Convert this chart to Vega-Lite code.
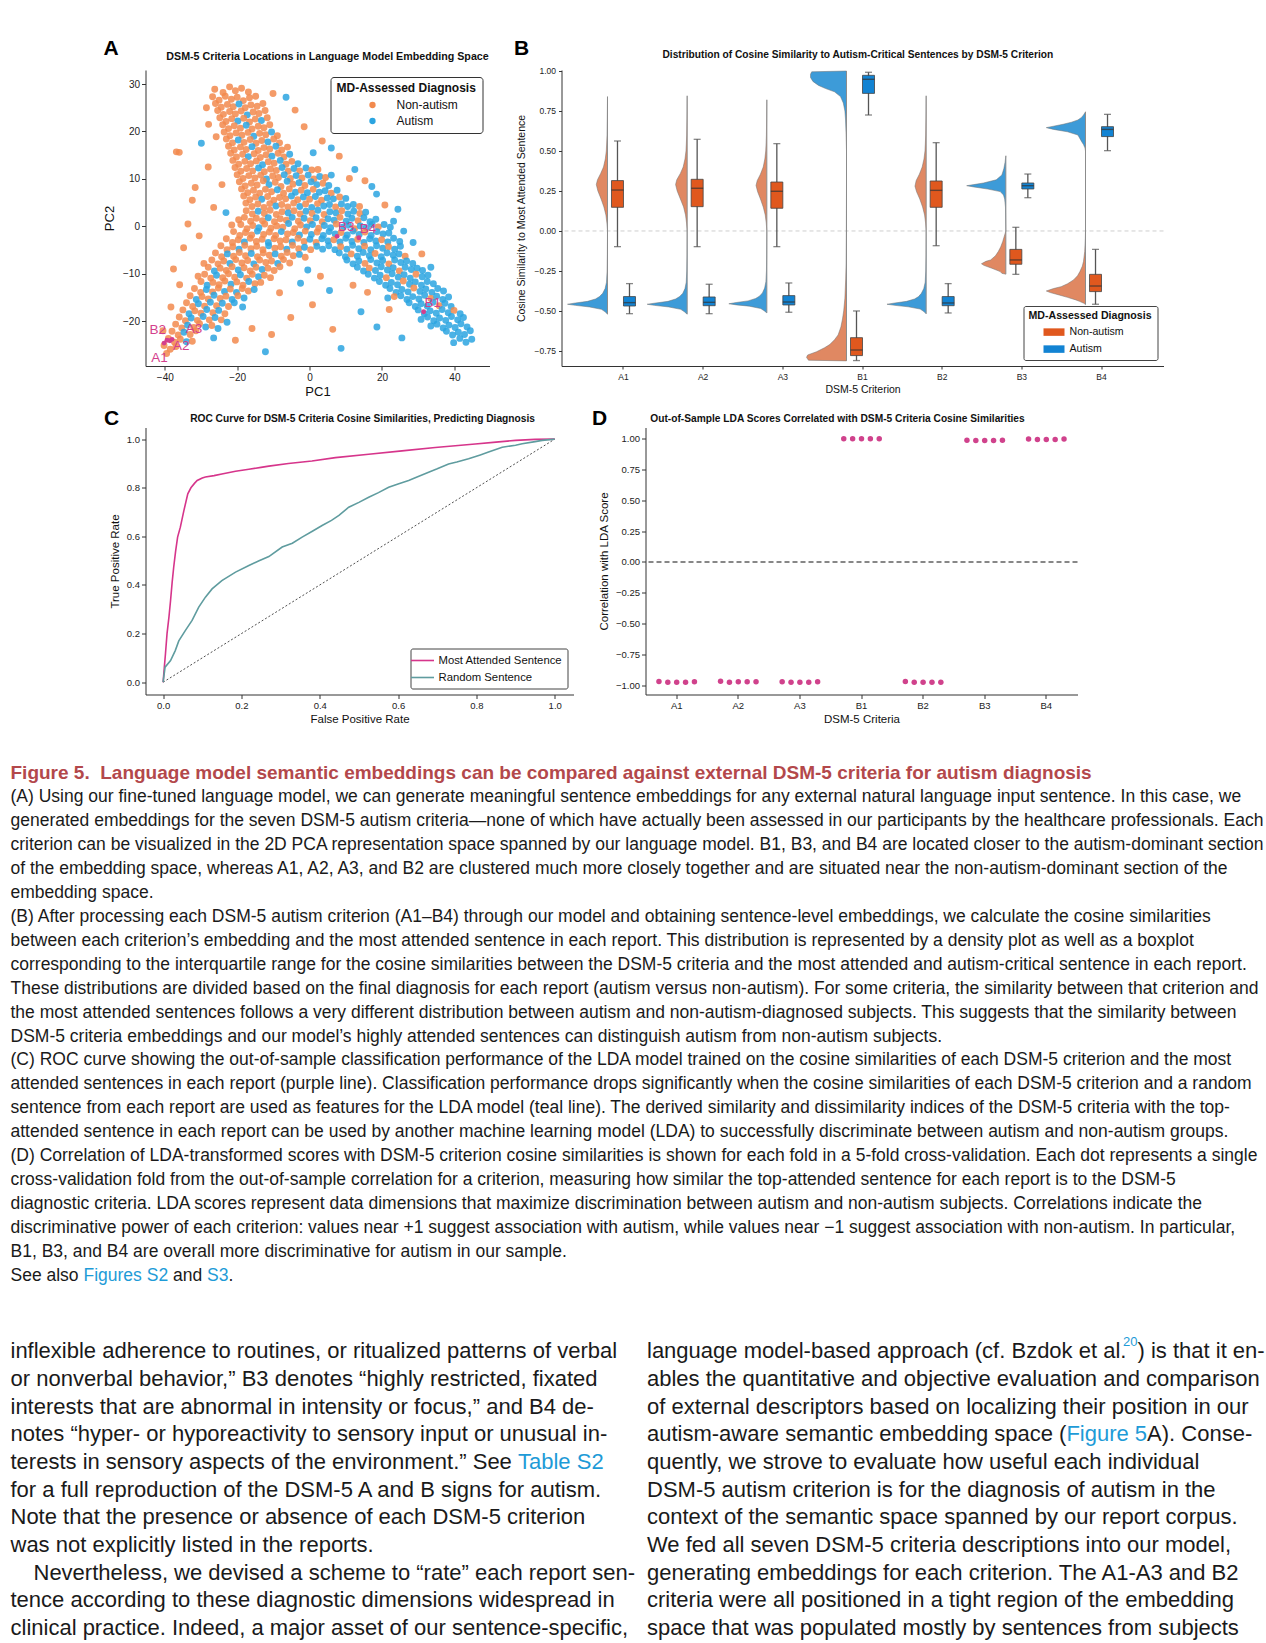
{
"$schema":"https://vega.github.io/schema/vega-lite/v6.json",
"background":"white",
"padding":{"left":10.5,"top":38,"right":0,"bottom":0},
"config":{
 "font":"Liberation Sans",
 "view":{"stroke":null},
 "axis":{"grid":false,"domainColor":"#333","tickColor":"#333","labelColor":"#222","titleColor":"#111","titleFontWeight":"normal","labelFont":"Liberation Sans","titleFont":"Liberation Sans","labelOverlap":false},
 "title":{"font":"Liberation Sans","fontWeight":"bold","color":"#111"},
 "legend":{"labelFont":"Liberation Sans","titleFont":"Liberation Sans"}
},
"datasets":{
"pca":[
{"x":-26.2,"y":28.9,"g":"N"},{"x":-23.9,"y":28.2,"g":"N"},{"x":-22.1,"y":29.4,"g":"N"},{"x":-20.5,"y":28.6,"g":"N"},{"x":-18.8,"y":29.1,"g":"N"},{"x":-16.9,"y":28.3,"g":"N"},
{"x":-26.8,"y":27.3,"g":"N"},{"x":-25.0,"y":26.6,"g":"N"},{"x":-23.3,"y":27.4,"g":"N"},{"x":-21.6,"y":26.8,"g":"N"},{"x":-20.0,"y":27.2,"g":"N"},{"x":-18.3,"y":26.5,"g":"N"},{"x":-16.6,"y":27.1,"g":"N"},{"x":-14.9,"y":27.4,"g":"N"},
{"x":-26.0,"y":25.9,"g":"N"},{"x":-24.4,"y":25.1,"g":"N"},{"x":-22.7,"y":25.7,"g":"N"},{"x":-21.1,"y":25.2,"g":"N"},{"x":-19.5,"y":25.8,"g":"A"},{"x":-17.8,"y":25.0,"g":"N"},{"x":-16.2,"y":25.6,"g":"N"},{"x":-14.5,"y":25.3,"g":"N"},{"x":-12.9,"y":25.9,"g":"N"},
{"x":-25.4,"y":24.4,"g":"N"},{"x":-23.8,"y":23.6,"g":"N"},{"x":-22.1,"y":24.2,"g":"N"},{"x":-20.5,"y":23.7,"g":"N"},{"x":-18.9,"y":24.3,"g":"N"},{"x":-17.2,"y":23.5,"g":"A"},{"x":-15.6,"y":24.1,"g":"N"},{"x":-14.0,"y":23.8,"g":"N"},{"x":-12.3,"y":24.4,"g":"N"},
{"x":-24.8,"y":22.9,"g":"N"},{"x":-23.1,"y":22.1,"g":"N"},{"x":-21.5,"y":22.7,"g":"N"},{"x":-19.8,"y":22.2,"g":"A"},{"x":-18.2,"y":22.8,"g":"N"},{"x":-16.6,"y":22.0,"g":"N"},{"x":-15.0,"y":22.6,"g":"N"},{"x":-13.3,"y":22.3,"g":"A"},{"x":-11.7,"y":22.9,"g":"N"},
{"x":-24.0,"y":21.4,"g":"N"},{"x":-22.4,"y":20.6,"g":"N"},{"x":-20.8,"y":21.2,"g":"N"},{"x":-19.1,"y":20.7,"g":"N"},{"x":-17.5,"y":21.3,"g":"A"},{"x":-15.9,"y":20.5,"g":"N"},{"x":-14.2,"y":21.1,"g":"N"},{"x":-12.6,"y":20.8,"g":"N"},{"x":-11.0,"y":21.4,"g":"N"},
{"x":-23.6,"y":19.9,"g":"N"},{"x":-22.0,"y":19.1,"g":"N"},{"x":-20.3,"y":19.7,"g":"N"},{"x":-18.7,"y":19.2,"g":"N"},{"x":-17.0,"y":19.8,"g":"N"},{"x":-15.4,"y":19.0,"g":"A"},{"x":-13.8,"y":19.6,"g":"N"},{"x":-12.1,"y":19.3,"g":"N"},{"x":-10.5,"y":19.9,"g":"A"},{"x":-8.9,"y":19.1,"g":"N"},
{"x":-23.0,"y":18.4,"g":"N"},{"x":-21.3,"y":17.6,"g":"N"},{"x":-19.7,"y":18.2,"g":"A"},{"x":-18.1,"y":17.7,"g":"N"},{"x":-16.4,"y":18.3,"g":"N"},{"x":-14.8,"y":17.5,"g":"N"},{"x":-13.2,"y":18.1,"g":"N"},{"x":-11.5,"y":17.8,"g":"A"},{"x":-9.9,"y":18.4,"g":"N"},{"x":-8.3,"y":17.6,"g":"N"},
{"x":-22.4,"y":16.9,"g":"N"},{"x":-20.8,"y":16.1,"g":"N"},{"x":-19.1,"y":16.7,"g":"N"},{"x":-17.5,"y":16.2,"g":"N"},{"x":-15.9,"y":16.8,"g":"A"},{"x":-14.2,"y":16.0,"g":"N"},{"x":-12.6,"y":16.6,"g":"N"},{"x":-11.0,"y":16.3,"g":"N"},{"x":-9.3,"y":16.9,"g":"A"},{"x":-7.7,"y":16.1,"g":"N"},{"x":-6.1,"y":16.7,"g":"N"},
{"x":-21.8,"y":15.4,"g":"N"},{"x":-20.2,"y":14.6,"g":"N"},{"x":-18.5,"y":15.2,"g":"N"},{"x":-16.9,"y":14.7,"g":"A"},{"x":-15.3,"y":15.3,"g":"N"},{"x":-13.6,"y":14.5,"g":"N"},{"x":-12.0,"y":15.1,"g":"N"},{"x":-10.4,"y":14.8,"g":"A"},{"x":-8.7,"y":15.4,"g":"N"},{"x":-7.1,"y":14.6,"g":"N"},{"x":-5.5,"y":15.2,"g":"A"},
{"x":-21.2,"y":13.9,"g":"N"},{"x":-19.6,"y":13.1,"g":"N"},{"x":-17.9,"y":13.7,"g":"N"},{"x":-16.3,"y":13.2,"g":"N"},{"x":-14.7,"y":13.8,"g":"N"},{"x":-13.0,"y":13.0,"g":"A"},{"x":-11.4,"y":13.6,"g":"N"},{"x":-9.8,"y":13.3,"g":"N"},{"x":-8.1,"y":13.9,"g":"A"},{"x":-6.5,"y":13.1,"g":"N"},{"x":-4.9,"y":13.7,"g":"N"},{"x":-3.2,"y":13.2,"g":"A"},
{"x":-20.6,"y":12.4,"g":"N"},{"x":-19.0,"y":11.6,"g":"N"},{"x":-17.4,"y":12.2,"g":"N"},{"x":-15.7,"y":11.7,"g":"N"},{"x":-14.1,"y":12.3,"g":"A"},{"x":-12.5,"y":11.5,"g":"N"},{"x":-10.8,"y":12.1,"g":"N"},{"x":-9.2,"y":11.8,"g":"N"},{"x":-7.6,"y":12.4,"g":"A"},{"x":-5.9,"y":11.6,"g":"N"},{"x":-4.3,"y":12.2,"g":"A"},{"x":-2.7,"y":11.7,"g":"N"},{"x":-1.0,"y":12.3,"g":"A"},{"x":0.6,"y":11.9,"g":"N"},{"x":2.3,"y":12.0,"g":"N"},
{"x":-20.0,"y":10.9,"g":"N"},{"x":-18.4,"y":10.1,"g":"N"},{"x":-16.8,"y":10.7,"g":"N"},{"x":-15.1,"y":10.2,"g":"N"},{"x":-13.5,"y":10.8,"g":"N"},{"x":-11.9,"y":10.0,"g":"A"},{"x":-10.2,"y":10.6,"g":"N"},{"x":-8.6,"y":10.3,"g":"N"},{"x":-7.0,"y":10.9,"g":"A"},{"x":-5.3,"y":10.1,"g":"N"},{"x":-3.7,"y":10.7,"g":"A"},{"x":-2.1,"y":10.2,"g":"N"},{"x":-0.4,"y":10.8,"g":"A"},{"x":1.2,"y":10.0,"g":"N"},{"x":2.8,"y":10.5,"g":"A"},{"x":4.4,"y":10.3,"g":"N"},{"x":6.0,"y":10.8,"g":"A"},
{"x":-19.4,"y":9.4,"g":"N"},{"x":-17.8,"y":8.5,"g":"N"},{"x":-16.1,"y":9.1,"g":"N"},{"x":-14.5,"y":8.7,"g":"N"},{"x":-12.8,"y":9.6,"g":"N"},{"x":-11.2,"y":8.8,"g":"A"},{"x":-9.5,"y":9.3,"g":"N"},{"x":-7.9,"y":8.4,"g":"N"},{"x":-6.2,"y":9.5,"g":"A"},{"x":-4.6,"y":8.9,"g":"N"},{"x":-2.9,"y":9.2,"g":"A"},{"x":-1.3,"y":8.6,"g":"N"},{"x":0.4,"y":9.4,"g":"A"},{"x":2.0,"y":8.8,"g":"A"},{"x":3.7,"y":9.1,"g":"N"},{"x":5.3,"y":8.6,"g":"A"},
{"x":-18.8,"y":7.9,"g":"N"},{"x":-17.1,"y":7.1,"g":"N"},{"x":-15.5,"y":7.6,"g":"N"},{"x":-13.8,"y":7.0,"g":"N"},{"x":-12.2,"y":7.8,"g":"N"},{"x":-10.5,"y":7.3,"g":"N"},{"x":-8.9,"y":7.7,"g":"A"},{"x":-7.2,"y":7.0,"g":"N"},{"x":-5.6,"y":7.9,"g":"N"},{"x":-3.9,"y":7.2,"g":"A"},{"x":-2.3,"y":7.6,"g":"N"},{"x":-0.6,"y":7.1,"g":"A"},{"x":1.0,"y":7.8,"g":"N"},{"x":2.7,"y":7.2,"g":"A"},{"x":4.3,"y":7.5,"g":"A"},{"x":6.0,"y":7.0,"g":"N"},{"x":7.6,"y":7.6,"g":"A"},
{"x":-18.2,"y":6.4,"g":"N"},{"x":-16.5,"y":5.6,"g":"N"},{"x":-14.9,"y":6.2,"g":"N"},{"x":-13.2,"y":5.7,"g":"A"},{"x":-11.6,"y":6.3,"g":"N"},{"x":-9.9,"y":5.5,"g":"N"},{"x":-8.3,"y":6.1,"g":"N"},{"x":-6.6,"y":5.8,"g":"N"},{"x":-5.0,"y":6.4,"g":"A"},{"x":-3.3,"y":5.6,"g":"N"},{"x":-1.7,"y":6.2,"g":"A"},{"x":0.0,"y":5.7,"g":"N"},{"x":1.6,"y":6.3,"g":"A"},{"x":3.3,"y":5.5,"g":"N"},{"x":4.9,"y":6.0,"g":"A"},{"x":6.6,"y":5.8,"g":"A"},{"x":8.3,"y":6.2,"g":"N"},{"x":10.0,"y":5.9,"g":"A"},
{"x":-17.6,"y":4.9,"g":"N"},{"x":-15.9,"y":4.2,"g":"N"},{"x":-14.3,"y":4.7,"g":"N"},{"x":-12.6,"y":4.0,"g":"N"},{"x":-11.0,"y":4.8,"g":"N"},{"x":-9.3,"y":4.3,"g":"A"},{"x":-7.7,"y":4.6,"g":"N"},{"x":-6.0,"y":4.1,"g":"N"},{"x":-4.4,"y":4.9,"g":"N"},{"x":-2.7,"y":4.2,"g":"A"},{"x":-1.1,"y":4.7,"g":"N"},{"x":0.6,"y":4.0,"g":"A"},{"x":2.2,"y":4.8,"g":"N"},{"x":3.9,"y":4.3,"g":"A"},{"x":5.5,"y":4.6,"g":"A"},{"x":7.2,"y":4.1,"g":"N"},{"x":8.8,"y":4.7,"g":"A"},{"x":10.5,"y":4.2,"g":"A"},{"x":12.1,"y":4.6,"g":"A"},{"x":13.8,"y":4.2,"g":"N"},
{"x":-17.5,"y":3.3,"g":"N"},{"x":-15.8,"y":2.6,"g":"N"},{"x":-14.2,"y":3.2,"g":"A"},{"x":-12.5,"y":2.7,"g":"N"},{"x":-10.9,"y":3.4,"g":"N"},{"x":-9.2,"y":2.5,"g":"N"},{"x":-7.6,"y":3.1,"g":"N"},{"x":-5.9,"y":2.8,"g":"A"},{"x":-4.3,"y":3.3,"g":"N"},{"x":-2.6,"y":2.6,"g":"N"},{"x":-1.0,"y":3.2,"g":"A"},{"x":0.7,"y":2.7,"g":"N"},{"x":2.3,"y":3.4,"g":"A"},{"x":4.0,"y":2.5,"g":"N"},{"x":5.6,"y":3.1,"g":"A"},{"x":7.3,"y":2.8,"g":"A"},{"x":8.9,"y":3.3,"g":"N"},{"x":10.6,"y":2.6,"g":"A"},{"x":12.2,"y":3.2,"g":"A"},{"x":13.9,"y":2.7,"g":"N"},{"x":15.5,"y":3.0,"g":"A"},
{"x":-19.6,"y":1.4,"g":"N"},{"x":-18.0,"y":1.9,"g":"N"},{"x":-16.3,"y":1.1,"g":"N"},{"x":-14.7,"y":1.7,"g":"N"},{"x":-13.0,"y":1.2,"g":"N"},{"x":-11.4,"y":1.8,"g":"A"},{"x":-9.7,"y":1.0,"g":"N"},{"x":-8.1,"y":1.6,"g":"N"},{"x":-6.4,"y":1.3,"g":"N"},{"x":-4.8,"y":1.9,"g":"A"},{"x":-3.1,"y":1.1,"g":"N"},{"x":-1.5,"y":1.7,"g":"A"},{"x":0.2,"y":1.2,"g":"N"},{"x":1.8,"y":1.8,"g":"A"},{"x":3.5,"y":1.0,"g":"N"},{"x":5.1,"y":1.6,"g":"A"},{"x":6.8,"y":1.3,"g":"A"},{"x":8.4,"y":1.9,"g":"N"},{"x":10.1,"y":1.1,"g":"A"},{"x":11.7,"y":1.7,"g":"A"},{"x":13.4,"y":1.2,"g":"N"},{"x":15.0,"y":1.8,"g":"A"},{"x":16.7,"y":1.0,"g":"A"},{"x":18.3,"y":1.5,"g":"A"},
{"x":-21.5,"y":0.3,"g":"N"},{"x":-19.0,"y":0.4,"g":"N"},{"x":-17.3,"y":-0.5,"g":"N"},{"x":-15.7,"y":0.2,"g":"N"},{"x":-14.0,"y":-0.3,"g":"A"},{"x":-12.4,"y":0.5,"g":"N"},{"x":-10.7,"y":-0.4,"g":"N"},{"x":-9.1,"y":0.1,"g":"N"},{"x":-7.4,"y":-0.2,"g":"N"},{"x":-5.8,"y":0.6,"g":"A"},{"x":-4.1,"y":-0.5,"g":"N"},{"x":-2.5,"y":0.3,"g":"N"},{"x":-0.8,"y":-0.1,"g":"A"},{"x":0.8,"y":0.4,"g":"A"},{"x":2.5,"y":-0.4,"g":"N"},{"x":4.1,"y":0.2,"g":"A"},{"x":5.8,"y":-0.3,"g":"A"},{"x":7.4,"y":0.5,"g":"N"},{"x":9.1,"y":-0.2,"g":"A"},{"x":10.7,"y":0.3,"g":"A"},{"x":12.4,"y":-0.5,"g":"N"},{"x":14.0,"y":0.1,"g":"A"},{"x":15.7,"y":-0.3,"g":"A"},{"x":17.3,"y":0.4,"g":"A"},{"x":19.0,"y":-0.1,"g":"N"},{"x":20.6,"y":0.4,"g":"A"},{"x":22.3,"y":-0.2,"g":"A"},
{"x":-21.0,"y":-1.1,"g":"N"},{"x":-19.3,"y":-1.9,"g":"N"},{"x":-17.7,"y":-1.3,"g":"N"},{"x":-16.0,"y":-1.8,"g":"N"},{"x":-14.4,"y":-1.0,"g":"A"},{"x":-12.7,"y":-1.7,"g":"N"},{"x":-11.1,"y":-1.2,"g":"N"},{"x":-9.4,"y":-1.9,"g":"N"},{"x":-7.8,"y":-1.1,"g":"A"},{"x":-6.1,"y":-1.6,"g":"N"},{"x":-4.5,"y":-1.3,"g":"N"},{"x":-2.8,"y":-1.8,"g":"A"},{"x":-1.2,"y":-1.0,"g":"N"},{"x":0.5,"y":-1.7,"g":"A"},{"x":2.1,"y":-1.2,"g":"N"},{"x":3.8,"y":-1.9,"g":"A"},{"x":5.4,"y":-1.1,"g":"A"},{"x":7.1,"y":-1.6,"g":"A"},{"x":8.7,"y":-1.3,"g":"N"},{"x":10.4,"y":-1.8,"g":"A"},{"x":12.0,"y":-1.0,"g":"A"},{"x":13.7,"y":-1.7,"g":"A"},{"x":15.3,"y":-1.2,"g":"N"},{"x":17.0,"y":-1.9,"g":"A"},{"x":18.6,"y":-1.1,"g":"A"},{"x":20.3,"y":-1.6,"g":"A"},{"x":21.9,"y":-1.4,"g":"A"},
{"x":-23.0,"y":-2.6,"g":"N"},{"x":-21.3,"y":-3.4,"g":"N"},{"x":-19.7,"y":-2.8,"g":"N"},{"x":-18.0,"y":-3.3,"g":"A"},{"x":-16.4,"y":-2.5,"g":"N"},{"x":-14.7,"y":-3.2,"g":"N"},{"x":-13.1,"y":-2.7,"g":"N"},{"x":-11.4,"y":-3.4,"g":"A"},{"x":-9.8,"y":-2.6,"g":"N"},{"x":-8.1,"y":-3.1,"g":"N"},{"x":-6.5,"y":-2.8,"g":"N"},{"x":-4.8,"y":-3.3,"g":"A"},{"x":-3.2,"y":-2.5,"g":"N"},{"x":-1.5,"y":-3.2,"g":"N"},{"x":0.1,"y":-2.7,"g":"A"},{"x":1.8,"y":-3.4,"g":"N"},{"x":3.4,"y":-2.6,"g":"A"},{"x":5.1,"y":-3.1,"g":"A"},{"x":6.7,"y":-2.8,"g":"N"},{"x":8.4,"y":-3.3,"g":"A"},{"x":10.0,"y":-2.5,"g":"A"},{"x":11.7,"y":-3.2,"g":"A"},{"x":13.3,"y":-2.7,"g":"N"},{"x":15.0,"y":-3.4,"g":"A"},{"x":16.6,"y":-2.6,"g":"A"},{"x":18.3,"y":-3.1,"g":"A"},{"x":19.9,"y":-2.8,"g":"N"},{"x":21.6,"y":-3.3,"g":"A"},{"x":23.2,"y":-2.5,"g":"A"},{"x":24.9,"y":-3.2,"g":"A"},
{"x":-24.5,"y":-4.1,"g":"N"},{"x":-22.8,"y":-4.9,"g":"N"},{"x":-21.2,"y":-4.3,"g":"N"},{"x":-19.5,"y":-4.8,"g":"A"},{"x":-17.9,"y":-4.0,"g":"N"},{"x":-16.2,"y":-4.7,"g":"N"},{"x":-14.6,"y":-4.2,"g":"N"},{"x":-12.9,"y":-4.9,"g":"N"},{"x":-11.3,"y":-4.1,"g":"A"},{"x":-9.6,"y":-4.6,"g":"N"},{"x":-8.0,"y":-4.3,"g":"N"},{"x":-6.3,"y":-4.8,"g":"A"},{"x":-4.7,"y":-4.0,"g":"N"},{"x":-3.0,"y":-4.7,"g":"N"},{"x":-1.4,"y":-4.4,"g":"A"},{"x":0.3,"y":-4.9,"g":"N"},{"x":2.0,"y":-4.2,"g":"A"},{"x":3.6,"y":-4.8,"g":"A"},{"x":5.3,"y":-4.1,"g":"A"},{"x":7.0,"y":-4.9,"g":"A"},{"x":8.6,"y":-4.3,"g":"N"},{"x":10.3,"y":-4.8,"g":"A"},{"x":11.9,"y":-4.0,"g":"A"},{"x":13.6,"y":-4.7,"g":"A"},{"x":15.2,"y":-4.2,"g":"N"},{"x":16.9,"y":-4.9,"g":"A"},{"x":18.5,"y":-4.1,"g":"A"},{"x":20.2,"y":-4.6,"g":"A"},{"x":21.8,"y":-4.3,"g":"N"},{"x":23.5,"y":-4.8,"g":"A"},{"x":25.1,"y":-4.2,"g":"A"},
{"x":-26.0,"y":-5.6,"g":"N"},{"x":-24.3,"y":-6.4,"g":"N"},{"x":-22.7,"y":-5.8,"g":"A"},{"x":-21.0,"y":-6.3,"g":"N"},{"x":-19.4,"y":-5.5,"g":"N"},{"x":-17.7,"y":-6.2,"g":"N"},{"x":-16.1,"y":-5.7,"g":"A"},{"x":-14.4,"y":-6.4,"g":"N"},{"x":-12.8,"y":-5.6,"g":"N"},{"x":-11.1,"y":-6.1,"g":"N"},{"x":-9.5,"y":-5.8,"g":"A"},{"x":-7.8,"y":-6.3,"g":"N"},{"x":-6.2,"y":-5.5,"g":"N"},{"x":-4.5,"y":-6.2,"g":"N"},{"x":-2.8,"y":-5.9,"g":"A"},{"x":-1.2,"y":-6.5,"g":"N"},{"x":8.2,"y":-5.6,"g":"A"},{"x":9.9,"y":-6.4,"g":"A"},{"x":11.5,"y":-5.8,"g":"N"},{"x":13.2,"y":-6.3,"g":"A"},{"x":14.8,"y":-5.5,"g":"A"},{"x":16.5,"y":-6.2,"g":"A"},{"x":18.1,"y":-5.7,"g":"N"},{"x":19.8,"y":-6.4,"g":"A"},{"x":21.4,"y":-5.6,"g":"A"},{"x":23.1,"y":-6.1,"g":"A"},{"x":24.7,"y":-5.8,"g":"A"},{"x":26.4,"y":-6.3,"g":"N"},
{"x":-27.0,"y":-7.1,"g":"N"},{"x":-25.3,"y":-7.9,"g":"N"},{"x":-23.7,"y":-7.3,"g":"N"},{"x":-22.0,"y":-7.8,"g":"A"},{"x":-20.4,"y":-7.0,"g":"N"},{"x":-18.7,"y":-7.7,"g":"N"},{"x":-17.1,"y":-7.2,"g":"N"},{"x":-15.4,"y":-7.9,"g":"A"},{"x":-13.8,"y":-7.1,"g":"N"},{"x":-12.1,"y":-7.6,"g":"N"},{"x":-10.5,"y":-7.3,"g":"N"},{"x":-8.8,"y":-7.8,"g":"A"},{"x":-7.2,"y":-7.0,"g":"N"},{"x":-5.5,"y":-7.7,"g":"N"},{"x":10.3,"y":-7.1,"g":"A"},{"x":12.0,"y":-7.9,"g":"A"},{"x":13.6,"y":-7.3,"g":"A"},{"x":15.3,"y":-7.8,"g":"N"},{"x":16.9,"y":-7.0,"g":"A"},{"x":18.6,"y":-7.7,"g":"A"},{"x":20.2,"y":-7.2,"g":"A"},{"x":21.9,"y":-7.9,"g":"N"},{"x":23.5,"y":-7.1,"g":"A"},{"x":25.2,"y":-7.6,"g":"A"},{"x":26.8,"y":-7.3,"g":"A"},{"x":28.5,"y":-7.8,"g":"A"},
{"x":-28.0,"y":-8.6,"g":"N"},{"x":-26.3,"y":-9.4,"g":"A"},{"x":-24.7,"y":-8.8,"g":"N"},{"x":-23.0,"y":-9.3,"g":"N"},{"x":-21.4,"y":-8.5,"g":"N"},{"x":-19.7,"y":-9.2,"g":"A"},{"x":-18.1,"y":-8.7,"g":"N"},{"x":-16.4,"y":-9.4,"g":"N"},{"x":-14.8,"y":-8.6,"g":"N"},{"x":-13.1,"y":-9.1,"g":"A"},{"x":-11.5,"y":-8.8,"g":"N"},{"x":-9.8,"y":-9.3,"g":"N"},{"x":-8.2,"y":-8.5,"g":"N"},{"x":13.2,"y":-8.6,"g":"A"},{"x":14.9,"y":-9.4,"g":"A"},{"x":16.5,"y":-8.8,"g":"N"},{"x":18.2,"y":-9.3,"g":"A"},{"x":19.8,"y":-8.5,"g":"A"},{"x":21.5,"y":-9.2,"g":"A"},{"x":23.1,"y":-8.7,"g":"A"},{"x":24.8,"y":-9.4,"g":"N"},{"x":26.4,"y":-8.6,"g":"A"},{"x":28.1,"y":-9.1,"g":"A"},{"x":29.7,"y":-8.8,"g":"A"},{"x":31.2,"y":-9.3,"g":"A"},
{"x":-29.0,"y":-10.1,"g":"N"},{"x":-27.3,"y":-10.9,"g":"N"},{"x":-25.7,"y":-10.3,"g":"A"},{"x":-24.0,"y":-10.8,"g":"N"},{"x":-22.4,"y":-10.0,"g":"N"},{"x":-20.7,"y":-10.7,"g":"N"},{"x":-19.1,"y":-10.2,"g":"A"},{"x":-17.4,"y":-10.9,"g":"N"},{"x":-15.8,"y":-10.1,"g":"N"},{"x":-14.1,"y":-10.6,"g":"A"},{"x":-12.5,"y":-10.3,"g":"N"},{"x":-10.8,"y":-10.8,"g":"N"},{"x":16.2,"y":-10.1,"g":"A"},{"x":17.9,"y":-10.9,"g":"A"},{"x":19.5,"y":-10.3,"g":"A"},{"x":21.2,"y":-10.8,"g":"N"},{"x":22.8,"y":-10.0,"g":"A"},{"x":24.5,"y":-10.7,"g":"A"},{"x":26.1,"y":-10.2,"g":"A"},{"x":27.8,"y":-10.9,"g":"A"},{"x":29.4,"y":-10.1,"g":"N"},{"x":31.1,"y":-10.6,"g":"A"},{"x":32.7,"y":-10.3,"g":"A"},
{"x":-30.0,"y":-11.6,"g":"N"},{"x":-28.3,"y":-12.4,"g":"A"},{"x":-26.7,"y":-11.8,"g":"N"},{"x":-25.0,"y":-12.3,"g":"N"},{"x":-23.4,"y":-11.5,"g":"N"},{"x":-21.7,"y":-12.2,"g":"A"},{"x":-20.1,"y":-11.7,"g":"N"},{"x":-18.4,"y":-12.4,"g":"N"},{"x":-16.8,"y":-11.6,"g":"A"},{"x":-15.1,"y":-12.1,"g":"N"},{"x":-13.5,"y":-11.8,"g":"N"},{"x":19.3,"y":-11.6,"g":"A"},{"x":21.0,"y":-12.4,"g":"A"},{"x":22.6,"y":-11.8,"g":"A"},{"x":24.3,"y":-12.3,"g":"A"},{"x":25.9,"y":-11.5,"g":"N"},{"x":27.6,"y":-12.2,"g":"A"},{"x":29.2,"y":-11.7,"g":"A"},{"x":30.9,"y":-12.4,"g":"A"},{"x":32.5,"y":-11.6,"g":"A"},{"x":34.2,"y":-12.1,"g":"A"},
{"x":-31.8,"y":-13.1,"g":"N"},{"x":-30.1,"y":-13.9,"g":"N"},{"x":-28.5,"y":-13.3,"g":"A"},{"x":-26.8,"y":-13.8,"g":"N"},{"x":-25.2,"y":-13.0,"g":"N"},{"x":-23.5,"y":-13.7,"g":"A"},{"x":-21.9,"y":-13.2,"g":"N"},{"x":-20.2,"y":-13.9,"g":"A"},{"x":-18.6,"y":-13.1,"g":"N"},{"x":-16.9,"y":-13.6,"g":"N"},{"x":-15.3,"y":-13.3,"g":"A"},{"x":22.2,"y":-13.1,"g":"A"},{"x":23.9,"y":-13.9,"g":"A"},{"x":25.5,"y":-13.3,"g":"A"},{"x":27.2,"y":-13.8,"g":"A"},{"x":28.8,"y":-13.0,"g":"N"},{"x":30.5,"y":-13.7,"g":"A"},{"x":32.1,"y":-13.2,"g":"A"},{"x":33.8,"y":-13.9,"g":"A"},{"x":35.4,"y":-13.1,"g":"A"},{"x":37.0,"y":-13.6,"g":"A"},
{"x":-33.0,"y":-14.6,"g":"N"},{"x":-31.3,"y":-15.4,"g":"A"},{"x":-29.7,"y":-14.8,"g":"N"},{"x":-28.0,"y":-15.3,"g":"N"},{"x":-26.4,"y":-14.5,"g":"A"},{"x":-24.7,"y":-15.2,"g":"N"},{"x":-23.1,"y":-14.7,"g":"N"},{"x":-21.4,"y":-15.4,"g":"A"},{"x":-19.8,"y":-14.6,"g":"N"},{"x":-18.1,"y":-15.1,"g":"A"},{"x":21.6,"y":-15.1,"g":"A"},{"x":23.4,"y":-14.8,"g":"N"},{"x":25.2,"y":-14.6,"g":"A"},{"x":26.9,"y":-15.4,"g":"A"},{"x":28.5,"y":-14.8,"g":"A"},{"x":30.2,"y":-15.3,"g":"A"},{"x":31.8,"y":-14.5,"g":"A"},{"x":33.5,"y":-15.2,"g":"N"},{"x":35.1,"y":-14.7,"g":"A"},{"x":36.8,"y":-15.4,"g":"A"},{"x":38.4,"y":-14.9,"g":"A"},
{"x":-34.0,"y":-16.1,"g":"N"},{"x":-32.3,"y":-16.9,"g":"N"},{"x":-30.7,"y":-16.3,"g":"A"},{"x":-29.0,"y":-16.8,"g":"N"},{"x":-27.4,"y":-16.0,"g":"A"},{"x":-25.7,"y":-16.7,"g":"N"},{"x":-24.1,"y":-16.2,"g":"A"},{"x":-22.4,"y":-16.9,"g":"N"},{"x":-20.8,"y":-16.1,"g":"A"},{"x":27.5,"y":-16.1,"g":"A"},{"x":29.2,"y":-16.9,"g":"A"},{"x":30.8,"y":-16.3,"g":"A"},{"x":32.5,"y":-16.8,"g":"A"},{"x":34.1,"y":-16.0,"g":"A"},{"x":35.8,"y":-16.7,"g":"N"},{"x":37.4,"y":-16.2,"g":"A"},{"x":39.1,"y":-16.9,"g":"A"},
{"x":-35.0,"y":-17.6,"g":"N"},{"x":-33.3,"y":-18.4,"g":"A"},{"x":-31.7,"y":-17.8,"g":"N"},{"x":-30.0,"y":-18.3,"g":"N"},{"x":-28.4,"y":-17.5,"g":"A"},{"x":-26.7,"y":-18.2,"g":"N"},{"x":-25.1,"y":-17.7,"g":"A"},{"x":-23.4,"y":-18.4,"g":"N"},{"x":30.0,"y":-17.6,"g":"A"},{"x":31.7,"y":-18.4,"g":"A"},{"x":33.3,"y":-17.8,"g":"A"},{"x":35.0,"y":-18.3,"g":"A"},{"x":36.6,"y":-17.5,"g":"A"},{"x":38.3,"y":-18.2,"g":"A"},{"x":39.9,"y":-17.7,"g":"N"},{"x":41.6,"y":-18.4,"g":"A"},
{"x":-36.0,"y":-19.1,"g":"N"},{"x":-34.3,"y":-19.9,"g":"N"},{"x":-32.7,"y":-19.3,"g":"A"},{"x":-31.0,"y":-19.8,"g":"N"},{"x":-29.4,"y":-19.0,"g":"A"},{"x":-27.7,"y":-19.7,"g":"N"},{"x":-26.1,"y":-19.2,"g":"A"},{"x":-24.4,"y":-19.7,"g":"N"},{"x":-22.8,"y":-20.2,"g":"A"},{"x":30.8,"y":-19.6,"g":"A"},{"x":32.6,"y":-19.1,"g":"A"},{"x":34.3,"y":-19.9,"g":"A"},{"x":35.9,"y":-19.3,"g":"A"},{"x":37.6,"y":-19.8,"g":"A"},{"x":39.2,"y":-19.0,"g":"A"},{"x":40.9,"y":-19.7,"g":"A"},{"x":42.5,"y":-19.2,"g":"A"},
{"x":-37.0,"y":-20.6,"g":"N"},{"x":-35.3,"y":-21.4,"g":"N"},{"x":-33.7,"y":-20.8,"g":"A"},{"x":-32.0,"y":-21.3,"g":"N"},{"x":-30.4,"y":-20.5,"g":"N"},{"x":-28.7,"y":-21.2,"g":"A"},{"x":-27.0,"y":-20.9,"g":"N"},{"x":-25.3,"y":-21.5,"g":"A"},{"x":33.5,"y":-21.0,"g":"A"},{"x":35.2,"y":-20.6,"g":"A"},{"x":36.9,"y":-21.4,"g":"A"},{"x":38.5,"y":-20.8,"g":"A"},{"x":40.2,"y":-21.3,"g":"A"},{"x":41.8,"y":-20.5,"g":"A"},{"x":43.5,"y":-21.2,"g":"A"},
{"x":-38.0,"y":-22.1,"g":"N"},{"x":-36.3,"y":-22.9,"g":"N"},{"x":-34.7,"y":-22.3,"g":"A"},{"x":-33.0,"y":-22.8,"g":"N"},{"x":-31.4,"y":-22.0,"g":"N"},{"x":37.8,"y":-22.1,"g":"A"},{"x":39.5,"y":-22.9,"g":"A"},{"x":41.1,"y":-22.3,"g":"A"},{"x":42.8,"y":-22.8,"g":"A"},{"x":44.4,"y":-22.0,"g":"A"},
{"x":-39.0,"y":-23.6,"g":"N"},{"x":-37.3,"y":-24.4,"g":"N"},{"x":-35.7,"y":-23.8,"g":"N"},{"x":-34.0,"y":-24.3,"g":"A"},{"x":-32.4,"y":-24.2,"g":"N"},{"x":39.8,"y":-24.5,"g":"A"},{"x":41.5,"y":-23.6,"g":"A"},{"x":43.2,"y":-24.4,"g":"A"},{"x":44.8,"y":-23.8,"g":"A"},
{"x":-40.2,"y":-25.1,"g":"N"},{"x":-38.5,"y":-25.9,"g":"N"},{"x":-36.9,"y":-25.3,"g":"N"},{"x":-39.5,"y":-26.8,"g":"N"},
{"x":-36.8,"y":15.7,"g":"N"},{"x":-36.0,"y":15.6,"g":"N"},{"x":-31.6,"y":8.2,"g":"N"},{"x":-33.6,"y":0.5,"g":"N"},{"x":-34.8,"y":-4.5,"g":"N"},{"x":-30.5,"y":-2.0,"g":"N"},{"x":-28.0,"y":12.5,"g":"N"},{"x":-26.5,"y":4.0,"g":"N"},{"x":-29.2,"y":-7.8,"g":"N"},{"x":-25.8,"y":18.9,"g":"N"},{"x":-27.9,"y":21.5,"g":"N"},{"x":-24.2,"y":8.8,"g":"N"},{"x":-23.1,"y":2.9,"g":"A"},{"x":-35.9,"y":-12.3,"g":"N"},{"x":-37.6,"y":-9.0,"g":"N"},{"x":-32.4,"y":5.5,"g":"N"},{"x":-29.9,"y":17.5,"g":"A"},{"x":-38.3,"y":-17.0,"g":"N"},{"x":-40.5,"y":-22.0,"g":"N"},{"x":-10.1,"y":28.0,"g":"N"},{"x":-6.5,"y":27.2,"g":"A"},{"x":-4.0,"y":24.5,"g":"N"},{"x":3.5,"y":18.0,"g":"N"},{"x":8.2,"y":14.8,"g":"N"},{"x":6.0,"y":16.5,"g":"A"},{"x":12.5,"y":12.0,"g":"A"},{"x":15.3,"y":9.6,"g":"N"},{"x":11.0,"y":10.1,"g":"N"},{"x":18.5,"y":6.8,"g":"A"},{"x":20.8,"y":4.5,"g":"N"},{"x":23.2,"y":1.1,"g":"A"},{"x":26.0,"y":-1.0,"g":"A"},{"x":17.2,"y":8.4,"g":"A"},{"x":24.4,"y":3.6,"g":"A"},{"x":28.6,"y":-3.4,"g":"A"},{"x":31.0,"y":-5.8,"g":"N"},{"x":33.5,"y":-8.6,"g":"A"},{"x":-15.9,"y":-21.5,"g":"N"},{"x":-12.2,"y":-26.4,"g":"A"},{"x":-5.2,"y":-19.2,"g":"N"},{"x":0.8,"y":-16.5,"g":"N"},{"x":5.5,"y":-13.5,"g":"A"},{"x":-8.3,"y":-14.0,"g":"N"},{"x":-2.5,"y":-12.0,"g":"A"},{"x":6.4,"y":-21.7,"g":"N"},{"x":8.7,"y":-25.7,"g":"A"},{"x":14.2,"y":-18.0,"g":"A"},{"x":18.6,"y":-21.2,"g":"A"},{"x":22.0,"y":-17.5,"g":"N"},{"x":3.0,"y":-10.5,"g":"N"},{"x":-0.5,"y":-9.2,"g":"A"},{"x":12.0,"y":-12.4,"g":"N"},{"x":-18.5,"y":-17.0,"g":"A"},{"x":25.5,"y":-23.5,"g":"A"},{"x":-10.5,"y":-22.8,"g":"N"},{"x":16.0,"y":-13.9,"g":"N"},{"x":-20.5,"y":-24.0,"g":"N"},{"x":-1.5,"y":21.0,"g":"N"},{"x":1.0,"y":15.5,"g":"A"},{"x":-28.5,"y":25.0,"g":"N"},{"x":-30.8,"y":-10.5,"g":"N"},{"x":-26.5,"y":-23.5,"g":"A"}
],
"crit":[{"c":"A1","x":-40.2,"y":-24.6},{"c":"B2","x":-39.4,"y":-24.0},{"c":"A3","x":-38.6,"y":-24.1},{"c":"A2","x":-38.0,"y":-23.8},{"c":"B3","x":7.6,"y":-2.1},{"c":"B4","x":13.6,"y":-2.4},{"c":"B1","x":31.5,"y":-18.0}],
"bbox":[
{"c":"A1","g":"N","lo":-0.098,"q1":0.148,"med":0.256,"q3":0.315,"hi":0.5625},
{"c":"A1","g":"A","lo":-0.517,"q1":-0.469,"med":-0.448,"q3":-0.41,"hi":-0.329},
{"c":"A2","g":"N","lo":-0.098,"q1":0.152,"med":0.267,"q3":0.323,"hi":0.573},
{"c":"A2","g":"A","lo":-0.517,"q1":-0.467,"med":-0.446,"q3":-0.4125,"hi":-0.333},
{"c":"A3","g":"N","lo":-0.098,"q1":0.142,"med":0.248,"q3":0.306,"hi":0.546},
{"c":"A3","g":"A","lo":-0.508,"q1":-0.4625,"med":-0.444,"q3":-0.404,"hi":-0.325},
{"c":"B1","g":"N","lo":-0.81,"q1":-0.779,"med":-0.744,"q3":-0.667,"hi":-0.5},
{"c":"B1","g":"A","lo":0.725,"q1":0.86,"med":0.948,"q3":0.973,"hi":0.992},
{"c":"B2","g":"N","lo":-0.092,"q1":0.148,"med":0.254,"q3":0.3125,"hi":0.552},
{"c":"B2","g":"A","lo":-0.5125,"q1":-0.467,"med":-0.45,"q3":-0.41,"hi":-0.329},
{"c":"B3","g":"N","lo":-0.271,"q1":-0.208,"med":-0.181,"q3":-0.115,"hi":0.023},
{"c":"B3","g":"A","lo":0.208,"q1":0.2625,"med":0.283,"q3":0.3,"hi":0.356},
{"c":"B4","g":"N","lo":-0.458,"q1":-0.379,"med":-0.344,"q3":-0.271,"hi":-0.115},
{"c":"B4","g":"A","lo":0.502,"q1":0.59,"med":0.635,"q3":0.652,"hi":0.729}
],
"bdens":[
{"c":"A1","g":"A","v":-0.52,"d":0},{"c":"A1","g":"A","v":-0.505,"d":0.06},{"c":"A1","g":"A","v":-0.49,"d":0.15},{"c":"A1","g":"A","v":-0.475,"d":0.45},{"c":"A1","g":"A","v":-0.465,"d":0.8},{"c":"A1","g":"A","v":-0.458,"d":1.0},{"c":"A1","g":"A","v":-0.45,"d":0.8},{"c":"A1","g":"A","v":-0.44,"d":0.5},{"c":"A1","g":"A","v":-0.425,"d":0.3},{"c":"A1","g":"A","v":-0.41,"d":0.2},{"c":"A1","g":"A","v":-0.39,"d":0.12},{"c":"A1","g":"A","v":-0.36,"d":0.06},{"c":"A1","g":"A","v":-0.32,"d":0.025},{"c":"A1","g":"A","v":-0.25,"d":0.01},{"c":"A1","g":"A","v":-0.15,"d":0.004},{"c":"A1","g":"A","v":0.0,"d":0},
{"c":"A1","g":"N","v":0.0,"d":0},{"c":"A1","g":"N","v":0.05,"d":0.015},{"c":"A1","g":"N","v":0.1,"d":0.04},{"c":"A1","g":"N","v":0.15,"d":0.09},{"c":"A1","g":"N","v":0.2,"d":0.16},{"c":"A1","g":"N","v":0.25,"d":0.24},{"c":"A1","g":"N","v":0.29,"d":0.28},{"c":"A1","g":"N","v":0.32,"d":0.25},{"c":"A1","g":"N","v":0.36,"d":0.17},{"c":"A1","g":"N","v":0.4,"d":0.1},{"c":"A1","g":"N","v":0.45,"d":0.055},{"c":"A1","g":"N","v":0.5,"d":0.03},{"c":"A1","g":"N","v":0.55,"d":0.02},{"c":"A1","g":"N","v":0.6,"d":0.012},{"c":"A1","g":"N","v":0.7,"d":0.006},{"c":"A1","g":"N","v":0.84,"d":0},
{"c":"A2","g":"A","v":-0.52,"d":0},{"c":"A2","g":"A","v":-0.505,"d":0.07},{"c":"A2","g":"A","v":-0.49,"d":0.16},{"c":"A2","g":"A","v":-0.475,"d":0.46},{"c":"A2","g":"A","v":-0.465,"d":0.82},{"c":"A2","g":"A","v":-0.458,"d":1.0},{"c":"A2","g":"A","v":-0.45,"d":0.78},{"c":"A2","g":"A","v":-0.44,"d":0.48},{"c":"A2","g":"A","v":-0.425,"d":0.29},{"c":"A2","g":"A","v":-0.41,"d":0.19},{"c":"A2","g":"A","v":-0.39,"d":0.11},{"c":"A2","g":"A","v":-0.36,"d":0.055},{"c":"A2","g":"A","v":-0.32,"d":0.024},{"c":"A2","g":"A","v":-0.25,"d":0.01},{"c":"A2","g":"A","v":-0.15,"d":0.004},{"c":"A2","g":"A","v":0.0,"d":0},
{"c":"A2","g":"N","v":0.0,"d":0},{"c":"A2","g":"N","v":0.05,"d":0.016},{"c":"A2","g":"N","v":0.1,"d":0.042},{"c":"A2","g":"N","v":0.15,"d":0.09},{"c":"A2","g":"N","v":0.2,"d":0.17},{"c":"A2","g":"N","v":0.25,"d":0.25},{"c":"A2","g":"N","v":0.29,"d":0.29},{"c":"A2","g":"N","v":0.32,"d":0.26},{"c":"A2","g":"N","v":0.36,"d":0.17},{"c":"A2","g":"N","v":0.4,"d":0.1},{"c":"A2","g":"N","v":0.45,"d":0.055},{"c":"A2","g":"N","v":0.5,"d":0.03},{"c":"A2","g":"N","v":0.55,"d":0.02},{"c":"A2","g":"N","v":0.6,"d":0.012},{"c":"A2","g":"N","v":0.7,"d":0.006},{"c":"A2","g":"N","v":0.845,"d":0},
{"c":"A3","g":"A","v":-0.512,"d":0},{"c":"A3","g":"A","v":-0.5,"d":0.06},{"c":"A3","g":"A","v":-0.485,"d":0.15},{"c":"A3","g":"A","v":-0.47,"d":0.44},{"c":"A3","g":"A","v":-0.462,"d":0.76},{"c":"A3","g":"A","v":-0.455,"d":0.95},{"c":"A3","g":"A","v":-0.447,"d":0.76},{"c":"A3","g":"A","v":-0.437,"d":0.47},{"c":"A3","g":"A","v":-0.422,"d":0.28},{"c":"A3","g":"A","v":-0.407,"d":0.18},{"c":"A3","g":"A","v":-0.387,"d":0.11},{"c":"A3","g":"A","v":-0.357,"d":0.055},{"c":"A3","g":"A","v":-0.317,"d":0.024},{"c":"A3","g":"A","v":-0.25,"d":0.01},{"c":"A3","g":"A","v":-0.15,"d":0.004},{"c":"A3","g":"A","v":0.0,"d":0},
{"c":"A3","g":"N","v":0.0,"d":0},{"c":"A3","g":"N","v":0.05,"d":0.015},{"c":"A3","g":"N","v":0.1,"d":0.04},{"c":"A3","g":"N","v":0.15,"d":0.09},{"c":"A3","g":"N","v":0.2,"d":0.16},{"c":"A3","g":"N","v":0.245,"d":0.23},{"c":"A3","g":"N","v":0.285,"d":0.27},{"c":"A3","g":"N","v":0.315,"d":0.24},{"c":"A3","g":"N","v":0.355,"d":0.16},{"c":"A3","g":"N","v":0.4,"d":0.09},{"c":"A3","g":"N","v":0.45,"d":0.05},{"c":"A3","g":"N","v":0.5,"d":0.028},{"c":"A3","g":"N","v":0.55,"d":0.018},{"c":"A3","g":"N","v":0.6,"d":0.011},{"c":"A3","g":"N","v":0.7,"d":0.005},{"c":"A3","g":"N","v":0.82,"d":0},
{"c":"B1","g":"A","v":0.5,"d":0},{"c":"B1","g":"A","v":0.6,"d":0.01},{"c":"B1","g":"A","v":0.7,"d":0.025},{"c":"B1","g":"A","v":0.75,"d":0.04},{"c":"B1","g":"A","v":0.8,"d":0.08},{"c":"B1","g":"A","v":0.84,"d":0.15},{"c":"B1","g":"A","v":0.87,"d":0.3},{"c":"B1","g":"A","v":0.89,"d":0.52},{"c":"B1","g":"A","v":0.91,"d":0.7},{"c":"B1","g":"A","v":0.935,"d":0.84},{"c":"B1","g":"A","v":0.96,"d":0.9},{"c":"B1","g":"A","v":0.98,"d":0.9},{"c":"B1","g":"A","v":0.995,"d":0.87},{"c":"B1","g":"A","v":1.0,"d":0},
{"c":"B1","g":"N","v":-0.812,"d":0},{"c":"B1","g":"N","v":-0.808,"d":0.95},{"c":"B1","g":"N","v":-0.79,"d":1.0},{"c":"B1","g":"N","v":-0.775,"d":0.97},{"c":"B1","g":"N","v":-0.755,"d":0.75},{"c":"B1","g":"N","v":-0.73,"d":0.55},{"c":"B1","g":"N","v":-0.71,"d":0.42},{"c":"B1","g":"N","v":-0.68,"d":0.3},{"c":"B1","g":"N","v":-0.65,"d":0.21},{"c":"B1","g":"N","v":-0.6,"d":0.14},{"c":"B1","g":"N","v":-0.55,"d":0.1},{"c":"B1","g":"N","v":-0.5,"d":0.07},{"c":"B1","g":"N","v":-0.42,"d":0.04},{"c":"B1","g":"N","v":-0.3,"d":0.02},{"c":"B1","g":"N","v":-0.2,"d":0.01},{"c":"B1","g":"N","v":0.0,"d":0.004},{"c":"B1","g":"N","v":0.3,"d":0},
{"c":"B2","g":"A","v":-0.518,"d":0},{"c":"B2","g":"A","v":-0.503,"d":0.06},{"c":"B2","g":"A","v":-0.488,"d":0.15},{"c":"B2","g":"A","v":-0.474,"d":0.45},{"c":"B2","g":"A","v":-0.465,"d":0.78},{"c":"B2","g":"A","v":-0.458,"d":0.98},{"c":"B2","g":"A","v":-0.45,"d":0.78},{"c":"B2","g":"A","v":-0.44,"d":0.49},{"c":"B2","g":"A","v":-0.425,"d":0.29},{"c":"B2","g":"A","v":-0.41,"d":0.19},{"c":"B2","g":"A","v":-0.39,"d":0.12},{"c":"B2","g":"A","v":-0.36,"d":0.06},{"c":"B2","g":"A","v":-0.32,"d":0.025},{"c":"B2","g":"A","v":-0.25,"d":0.01},{"c":"B2","g":"A","v":-0.15,"d":0.004},{"c":"B2","g":"A","v":0.0,"d":0},
{"c":"B2","g":"N","v":0.0,"d":0},{"c":"B2","g":"N","v":0.05,"d":0.015},{"c":"B2","g":"N","v":0.1,"d":0.04},{"c":"B2","g":"N","v":0.15,"d":0.09},{"c":"B2","g":"N","v":0.2,"d":0.16},{"c":"B2","g":"N","v":0.245,"d":0.24},{"c":"B2","g":"N","v":0.28,"d":0.28},{"c":"B2","g":"N","v":0.315,"d":0.25},{"c":"B2","g":"N","v":0.355,"d":0.17},{"c":"B2","g":"N","v":0.4,"d":0.1},{"c":"B2","g":"N","v":0.45,"d":0.055},{"c":"B2","g":"N","v":0.5,"d":0.03},{"c":"B2","g":"N","v":0.55,"d":0.02},{"c":"B2","g":"N","v":0.6,"d":0.012},{"c":"B2","g":"N","v":0.7,"d":0.006},{"c":"B2","g":"N","v":0.845,"d":0},
{"c":"B3","g":"A","v":0.0,"d":0},{"c":"B3","g":"A","v":0.15,"d":0.01},{"c":"B3","g":"A","v":0.2,"d":0.03},{"c":"B3","g":"A","v":0.225,"d":0.06},{"c":"B3","g":"A","v":0.246,"d":0.14},{"c":"B3","g":"A","v":0.262,"d":0.45},{"c":"B3","g":"A","v":0.275,"d":0.8},{"c":"B3","g":"A","v":0.283,"d":0.98},{"c":"B3","g":"A","v":0.29,"d":0.8},{"c":"B3","g":"A","v":0.3,"d":0.56},{"c":"B3","g":"A","v":0.32,"d":0.24},{"c":"B3","g":"A","v":0.35,"d":0.1},{"c":"B3","g":"A","v":0.39,"d":0.05},{"c":"B3","g":"A","v":0.43,"d":0.02},{"c":"B3","g":"A","v":0.47,"d":0},
{"c":"B3","g":"N","v":-0.27,"d":0},{"c":"B3","g":"N","v":-0.265,"d":0.1},{"c":"B3","g":"N","v":-0.254,"d":0.14},{"c":"B3","g":"N","v":-0.233,"d":0.35},{"c":"B3","g":"N","v":-0.215,"d":0.55},{"c":"B3","g":"N","v":-0.205,"d":0.61},{"c":"B3","g":"N","v":-0.19,"d":0.5},{"c":"B3","g":"N","v":-0.181,"d":0.38},{"c":"B3","g":"N","v":-0.155,"d":0.26},{"c":"B3","g":"N","v":-0.129,"d":0.19},{"c":"B3","g":"N","v":-0.1,"d":0.13},{"c":"B3","g":"N","v":-0.067,"d":0.08},{"c":"B3","g":"N","v":-0.025,"d":0.03},{"c":"B3","g":"N","v":0.0,"d":0},
{"c":"B4","g":"A","v":0.5,"d":0},{"c":"B4","g":"A","v":0.52,"d":0.015},{"c":"B4","g":"A","v":0.54,"d":0.05},{"c":"B4","g":"A","v":0.56,"d":0.1},{"c":"B4","g":"A","v":0.6,"d":0.19},{"c":"B4","g":"A","v":0.62,"d":0.45},{"c":"B4","g":"A","v":0.635,"d":0.8},{"c":"B4","g":"A","v":0.646,"d":0.98},{"c":"B4","g":"A","v":0.655,"d":0.8},{"c":"B4","g":"A","v":0.667,"d":0.56},{"c":"B4","g":"A","v":0.68,"d":0.35},{"c":"B4","g":"A","v":0.694,"d":0.19},{"c":"B4","g":"A","v":0.71,"d":0.1},{"c":"B4","g":"A","v":0.725,"d":0.05},{"c":"B4","g":"A","v":0.745,"d":0},
{"c":"B4","g":"N","v":-0.46,"d":0},{"c":"B4","g":"N","v":-0.452,"d":0.04},{"c":"B4","g":"N","v":-0.44,"d":0.15},{"c":"B4","g":"N","v":-0.431,"d":0.24},{"c":"B4","g":"N","v":-0.415,"d":0.45},{"c":"B4","g":"N","v":-0.4,"d":0.66},{"c":"B4","g":"N","v":-0.385,"d":0.88},{"c":"B4","g":"N","v":-0.375,"d":0.98},{"c":"B4","g":"N","v":-0.36,"d":0.8},{"c":"B4","g":"N","v":-0.348,"d":0.61},{"c":"B4","g":"N","v":-0.33,"d":0.45},{"c":"B4","g":"N","v":-0.306,"d":0.3},{"c":"B4","g":"N","v":-0.28,"d":0.2},{"c":"B4","g":"N","v":-0.254,"d":0.14},{"c":"B4","g":"N","v":-0.22,"d":0.08},{"c":"B4","g":"N","v":-0.19,"d":0.05},{"c":"B4","g":"N","v":-0.129,"d":0.02},{"c":"B4","g":"N","v":-0.05,"d":0.005},{"c":"B4","g":"N","v":0.0,"d":0}
],
"roc":[
{"s":"M","fpr":0,"tpr":0},{"s":"M","fpr":0.003,"tpr":0.06},{"s":"M","fpr":0.006,"tpr":0.117},{"s":"M","fpr":0.01,"tpr":0.2},{"s":"M","fpr":0.015,"tpr":0.27},{"s":"M","fpr":0.019,"tpr":0.336},{"s":"M","fpr":0.023,"tpr":0.41},{"s":"M","fpr":0.027,"tpr":0.473},{"s":"M","fpr":0.032,"tpr":0.54},{"s":"M","fpr":0.037,"tpr":0.597},{"s":"M","fpr":0.044,"tpr":0.638},{"s":"M","fpr":0.053,"tpr":0.706},{"s":"M","fpr":0.063,"tpr":0.775},{"s":"M","fpr":0.071,"tpr":0.8},{"s":"M","fpr":0.08,"tpr":0.818},{"s":"M","fpr":0.087,"tpr":0.83},{"s":"M","fpr":0.1,"tpr":0.84},{"s":"M","fpr":0.108,"tpr":0.844},{"s":"M","fpr":0.13,"tpr":0.85},{"s":"M","fpr":0.15,"tpr":0.857},{"s":"M","fpr":0.185,"tpr":0.868},{"s":"M","fpr":0.219,"tpr":0.876},{"s":"M","fpr":0.25,"tpr":0.884},{"s":"M","fpr":0.27,"tpr":0.889},{"s":"M","fpr":0.32,"tpr":0.9},{"s":"M","fpr":0.38,"tpr":0.91},{"s":"M","fpr":0.44,"tpr":0.924},{"s":"M","fpr":0.525,"tpr":0.938},{"s":"M","fpr":0.61,"tpr":0.952},{"s":"M","fpr":0.695,"tpr":0.966},{"s":"M","fpr":0.797,"tpr":0.98},{"s":"M","fpr":0.85,"tpr":0.988},{"s":"M","fpr":0.9,"tpr":0.995},{"s":"M","fpr":0.95,"tpr":0.999},{"s":"M","fpr":1,"tpr":1},
{"s":"R","fpr":0,"tpr":0},{"s":"R","fpr":0.005,"tpr":0.062},{"s":"R","fpr":0.019,"tpr":0.089},{"s":"R","fpr":0.031,"tpr":0.13},{"s":"R","fpr":0.04,"tpr":0.17},{"s":"R","fpr":0.057,"tpr":0.213},{"s":"R","fpr":0.074,"tpr":0.254},{"s":"R","fpr":0.091,"tpr":0.309},{"s":"R","fpr":0.108,"tpr":0.35},{"s":"R","fpr":0.125,"tpr":0.384},{"s":"R","fpr":0.15,"tpr":0.418},{"s":"R","fpr":0.185,"tpr":0.453},{"s":"R","fpr":0.219,"tpr":0.48},{"s":"R","fpr":0.245,"tpr":0.5},{"s":"R","fpr":0.27,"tpr":0.517},{"s":"R","fpr":0.304,"tpr":0.556},{"s":"R","fpr":0.33,"tpr":0.572},{"s":"R","fpr":0.355,"tpr":0.597},{"s":"R","fpr":0.38,"tpr":0.62},{"s":"R","fpr":0.406,"tpr":0.645},{"s":"R","fpr":0.43,"tpr":0.666},{"s":"R","fpr":0.449,"tpr":0.686},{"s":"R","fpr":0.474,"tpr":0.72},{"s":"R","fpr":0.5,"tpr":0.74},{"s":"R","fpr":0.525,"tpr":0.761},{"s":"R","fpr":0.55,"tpr":0.78},{"s":"R","fpr":0.576,"tpr":0.802},{"s":"R","fpr":0.6,"tpr":0.816},{"s":"R","fpr":0.627,"tpr":0.83},{"s":"R","fpr":0.65,"tpr":0.845},{"s":"R","fpr":0.678,"tpr":0.864},{"s":"R","fpr":0.7,"tpr":0.878},{"s":"R","fpr":0.729,"tpr":0.898},{"s":"R","fpr":0.75,"tpr":0.906},{"s":"R","fpr":0.78,"tpr":0.919},{"s":"R","fpr":0.81,"tpr":0.935},{"s":"R","fpr":0.831,"tpr":0.947},{"s":"R","fpr":0.866,"tpr":0.967},{"s":"R","fpr":0.9,"tpr":0.975},{"s":"R","fpr":0.917,"tpr":0.981},{"s":"R","fpr":0.95,"tpr":0.99},{"s":"R","fpr":0.968,"tpr":0.995},{"s":"R","fpr":1,"tpr":1}
],
"lda":[
{"c":"A1","f":1,"r":-0.968},{"c":"A1","f":2,"r":-0.973},{"c":"A1","f":3,"r":-0.973},{"c":"A1","f":4,"r":-0.973},{"c":"A1","f":5,"r":-0.970},
{"c":"A2","f":1,"r":-0.965},{"c":"A2","f":2,"r":-0.973},{"c":"A2","f":3,"r":-0.970},{"c":"A2","f":4,"r":-0.970},{"c":"A2","f":5,"r":-0.970},
{"c":"A3","f":1,"r":-0.970},{"c":"A3","f":2,"r":-0.973},{"c":"A3","f":3,"r":-0.973},{"c":"A3","f":4,"r":-0.973},{"c":"A3","f":5,"r":-0.970},
{"c":"B1","f":1,"r":0.998},{"c":"B1","f":2,"r":0.997},{"c":"B1","f":3,"r":0.997},{"c":"B1","f":4,"r":0.997},{"c":"B1","f":5,"r":0.997},
{"c":"B2","f":1,"r":-0.968},{"c":"B2","f":2,"r":-0.973},{"c":"B2","f":3,"r":-0.973},{"c":"B2","f":4,"r":-0.973},{"c":"B2","f":5,"r":-0.973},
{"c":"B3","f":1,"r":0.986},{"c":"B3","f":2,"r":0.984},{"c":"B3","f":3,"r":0.984},{"c":"B3","f":4,"r":0.984},{"c":"B3","f":5,"r":0.986},
{"c":"B4","f":1,"r":0.995},{"c":"B4","f":2,"r":0.992},{"c":"B4","f":3,"r":0.992},{"c":"B4","f":4,"r":0.992},{"c":"B4","f":5,"r":0.995}
],
"cap":[
{"n":0,"k":"h","t":"Figure 5.\u00a0 Language model semantic embeddings can be compared against external DSM-5 criteria for autism diagnosis"},
{"n":1,"k":"t","t":"(A) Using our fine-tuned language model, we can generate meaningful sentence embeddings for any external natural language input sentence. In this case, we"},
{"n":2,"k":"t","t":"generated embeddings for the seven DSM-5 autism criteria—none of which have actually been assessed in our participants by the healthcare professionals. Each"},
{"n":3,"k":"t","t":"criterion can be visualized in the 2D PCA representation space spanned by our language model. B1, B3, and B4 are located closer to the autism-dominant section"},
{"n":4,"k":"t","t":"of the embedding space, whereas A1, A2, A3, and B2 are clustered much more closely together and are situated near the non-autism-dominant section of the"},
{"n":5,"k":"t","t":"embedding space."},
{"n":6,"k":"t","t":"(B) After processing each DSM-5 autism criterion (A1–B4) through our model and obtaining sentence-level embeddings, we calculate the cosine similarities"},
{"n":7,"k":"t","t":"between each criterion’s embedding and the most attended sentence in each report. This distribution is represented by a density plot as well as a boxplot"},
{"n":8,"k":"t","t":"corresponding to the interquartile range for the cosine similarities between the DSM-5 criteria and the most attended and autism-critical sentence in each report."},
{"n":9,"k":"t","t":"These distributions are divided based on the final diagnosis for each report (autism versus non-autism). For some criteria, the similarity between that criterion and"},
{"n":10,"k":"t","t":"the most attended sentences follows a very different distribution between autism and non-autism-diagnosed subjects. This suggests that the similarity between"},
{"n":11,"k":"t","t":"DSM-5 criteria embeddings and our model’s highly attended sentences can distinguish autism from non-autism subjects."},
{"n":12,"k":"t","t":"(C) ROC curve showing the out-of-sample classification performance of the LDA model trained on the cosine similarities of each DSM-5 criterion and the most"},
{"n":13,"k":"t","t":"attended sentences in each report (purple line). Classification performance drops significantly when the cosine similarities of each DSM-5 criterion and a random"},
{"n":14,"k":"t","t":"sentence from each report are used as features for the LDA model (teal line). The derived similarity and dissimilarity indices of the DSM-5 criteria with the top-"},
{"n":15,"k":"t","t":"attended sentence in each report can be used by another machine learning model (LDA) to successfully discriminate between autism and non-autism groups."},
{"n":16,"k":"t","t":"(D) Correlation of LDA-transformed scores with DSM-5 criterion cosine similarities is shown for each fold in a 5-fold cross-validation. Each dot represents a single"},
{"n":17,"k":"t","t":"cross-validation fold from the out-of-sample correlation for a criterion, measuring how similar the top-attended sentence for each report is to the DSM-5"},
{"n":18,"k":"t","t":"diagnostic criteria. LDA scores represent data dimensions that maximize discrimination between autism and non-autism subjects. Correlations indicate the"},
{"n":19,"k":"t","t":"discriminative power of each criterion: values near +1 suggest association with autism, while values near −1 suggest association with non-autism. In particular,"},
{"n":20,"k":"t","t":"B1, B3, and B4 are overall more discriminative for autism in our sample."},
{"n":21,"k":"t","t":"See also"},
{"n":21,"k":"l1","t":"Figures S2"},
{"n":21,"k":"t2","t":"and"},
{"n":21,"k":"l2","t":"S3"},
{"n":21,"k":"t3","t":"."}
],
"bl":[
{"n":0,"k":"t","t":"inflexible adherence to routines, or ritualized patterns of verbal"},
{"n":1,"k":"t","t":"or nonverbal behavior,” B3 denotes “highly restricted, fixated"},
{"n":2,"k":"t","t":"interests that are abnormal in intensity or focus,” and B4 de-"},
{"n":3,"k":"t","t":"notes “hyper- or hyporeactivity to sensory input or unusual in-"},
{"n":4,"k":"t","t":"terests in sensory aspects of the environment.” See"},
{"n":4,"k":"l","t":"Table S2"},
{"n":5,"k":"t","t":"for a full reproduction of the DSM-5 A and B signs for autism."},
{"n":6,"k":"t","t":"Note that the presence or absence of each DSM-5 criterion"},
{"n":7,"k":"t","t":"was not explicitly listed in the reports."},
{"n":8,"k":"i","t":"Nevertheless, we devised a scheme to “rate” each report sen-"},
{"n":9,"k":"t","t":"tence according to these diagnostic dimensions widespread in"},
{"n":10,"k":"t","t":"clinical practice. Indeed, a major asset of our sentence-specific,"}
],
"br":[
{"n":0,"k":"t","t":"language model-based approach (cf. Bzdok et al."},
{"n":0,"k":"s","t":"20"},
{"n":0,"k":"u","t":") is that it en-"},
{"n":1,"k":"t","t":"ables the quantitative and objective evaluation and comparison"},
{"n":2,"k":"t","t":"of external descriptors based on localizing their position in our"},
{"n":3,"k":"t","t":"autism-aware semantic embedding space ("},
{"n":3,"k":"l","t":"Figure 5"},
{"n":3,"k":"v","t":"A). Conse-"},
{"n":4,"k":"t","t":"quently, we strove to evaluate how useful each individual"},
{"n":5,"k":"t","t":"DSM-5 autism criterion is for the diagnosis of autism in the"},
{"n":6,"k":"t","t":"context of the semantic space spanned by our report corpus."},
{"n":7,"k":"t","t":"We fed all seven DSM-5 criteria descriptions into our model,"},
{"n":8,"k":"t","t":"generating embeddings for each criterion. The A1-A3 and B2"},
{"n":9,"k":"t","t":"criteria were all positioned in a tight region of the embedding"},
{"n":10,"k":"t","t":"space that was populated mostly by sentences from subjects"}
]
},
"spacing":1.5,
"resolve":{"scale":{"color":"independent","fill":"independent","stroke":"independent","xOffset":"independent"},"legend":{"color":"independent","fill":"independent","stroke":"independent"}},
"vconcat":[
{"hconcat":[
 {"width":134.5,"height":336,"data":{"values":[{"t":"A"}]},"mark":{"type":"text","fontSize":21,"fontWeight":"bold","align":"center","baseline":"middle","color":"#000"},"encoding":{"text":{"field":"t"},"x":{"datum":0.747,"type":"quantitative","scale":{"domain":[0,1],"nice":false,"zero":false},"axis":null},"y":{"datum":1.0625,"type":"quantitative","scale":{"domain":[0,1],"nice":false,"zero":false},"axis":null}}},
 {"width":344,"height":296,
  "title":{"text":"DSM-5 Criteria Locations in Language Model Embedding Space","fontSize":10.7,"frame":"group","dx":10,"offset":7},
  "encoding":{
   "x":{"field":"x","type":"quantitative","title":"PC1","scale":{"domain":[-45.33,49.7],"nice":false,"zero":false},"axis":{"values":[-40,-20,0,20,40],"titleFontSize":13,"labelFontSize":10,"titlePadding":3,"tickSize":4,"labelPadding":2}},
   "y":{"field":"y","type":"quantitative","title":"PC2","scale":{"domain":[-29.42,32.95],"nice":false,"zero":false},"axis":{"values":[-20,-10,0,10,20,30],"titleFontSize":13,"labelFontSize":10,"titlePadding":6,"tickSize":4,"labelPadding":2}}
  },
  "layer":[
   {"data":{"name":"pca"},"mark":{"type":"circle","size":48,"opacity":0.85},"encoding":{"color":{"field":"g","type":"nominal","scale":{"domain":["N","A"],"range":["#F28A4E","#2BA4E0"]},"legend":{"title":"MD-Assessed Diagnosis","labelExpr":"datum.label == 'N' ? 'Non-autism' : 'Autism'","orient":"top-right","offset":7,"fillColor":"white","strokeColor":"#333","padding":6,"cornerRadius":3,"titleFontSize":12,"titleFontWeight":"bold","titleColor":"#111","labelFontSize":12,"labelColor":"#111","symbolType":"circle","symbolSize":40,"symbolOpacity":1,"symbolOffset":30,"labelOffset":18,"rowPadding":4,"titlePadding":4}}}},
   {"data":{"name":"crit"},"mark":{"type":"circle","size":24,"color":"#D43F8D","opacity":1}},
   {"data":{"name":"crit"},"transform":[{"filter":{"field":"c","oneOf":["B1","B3","B4"]}}],"mark":{"type":"text","align":"left","baseline":"middle","dx":1,"dy":-9,"fontSize":13.5,"color":"#D43F8D"},"encoding":{"text":{"field":"c"}}},
   {"data":{"name":"crit"},"transform":[{"filter":"datum.c == 'B2'"}],"mark":{"type":"text","align":"right","baseline":"middle","dx":-1,"dy":-10,"fontSize":13.5,"color":"#D43F8D"},"encoding":{"text":{"field":"c"}}},
   {"data":{"name":"crit"},"transform":[{"filter":"datum.c == 'A3'"}],"mark":{"type":"text","align":"left","baseline":"middle","dx":16,"dy":-11.7,"fontSize":13.5,"color":"#D43F8D"},"encoding":{"text":{"field":"c"}}},
   {"data":{"name":"crit"},"transform":[{"filter":"datum.c == 'A2'"}],"mark":{"type":"text","align":"left","baseline":"middle","dx":1,"dy":6.3,"fontSize":13.5,"color":"#D43F8D"},"encoding":{"text":{"field":"c"}}},
   {"data":{"name":"crit"},"transform":[{"filter":"datum.c == 'A1'"}],"mark":{"type":"text","align":"center","baseline":"middle","dx":-4.5,"dy":14.7,"fontSize":13.5,"color":"#D43F8D"},"encoding":{"text":{"field":"c"}}}
  ]
 },
 {"width":72,"height":336,"data":{"values":[{"t":"B"}]},"mark":{"type":"text","fontSize":21,"fontWeight":"bold","align":"center","baseline":"middle","color":"#000"},"encoding":{"text":{"field":"t"},"x":{"datum":0.444,"type":"quantitative","scale":{"domain":[0,1],"nice":false,"zero":false},"axis":null},"y":{"datum":1.0625,"type":"quantitative","scale":{"domain":[0,1],"nice":false,"zero":false},"axis":null}}},
 {"width":602,"height":296,
  "title":{"text":"Distribution of Cosine Similarity to Autism-Critical Sentences by DSM-5 Criterion","fontSize":10.2,"frame":"group","dx":-4.6,"offset":7},
  "resolve":{"scale":{"x":"independent","fill":"independent"},"legend":{"fill":"independent"}},
  "layer":[
   {"data":{"values":[{}]},"mark":{"type":"rule","color":"#cfcfcf","strokeDash":[4,3],"strokeWidth":1},"encoding":{"y":{"datum":0,"type":"quantitative","scale":{"domain":[-0.844,1.00625],"nice":false,"zero":false},"axis":{"values":[-0.75,-0.5,-0.25,0,0.25,0.5,0.75,1],"format":".2f","labelFontSize":8.5,"titleFontSize":10.5,"tickSize":3,"labelPadding":3,"titlePadding":7,"title":"Cosine Similarity to Most Attended Sentence"}}}},
   {"data":{"name":"bdens"},"transform":[{"filter":"datum.c == 'A1'"}],"mark":{"type":"line","stroke":"#6f6f6f","strokeWidth":0.5},"encoding":{"x":{"field":"d","type":"quantitative","scale":{"domain":[-13.9,1.15],"reverse":true,"zero":false,"nice":false},"axis":null},"y":{"field":"v","type":"quantitative","title":"Cosine Similarity to Most Attended Sentence"},"fill":{"field":"g","type":"nominal","scale":{"domain":["N","A"],"range":["#E08862","#3D9BD8"]},"legend":null},"detail":{"field":"g"},"order":{"field":"v","type":"quantitative"}}},
   {"data":{"name":"bdens"},"transform":[{"filter":"datum.c == 'A2'"}],"mark":{"type":"line","stroke":"#6f6f6f","strokeWidth":0.5},"encoding":{"x":{"field":"d","type":"quantitative","scale":{"domain":[-11.908,3.142],"reverse":true,"zero":false,"nice":false},"axis":null},"y":{"field":"v","type":"quantitative","title":"Cosine Similarity to Most Attended Sentence"},"fill":{"field":"g","type":"nominal","scale":{"domain":["N","A"],"range":["#E08862","#3D9BD8"]},"legend":null},"detail":{"field":"g"},"order":{"field":"v","type":"quantitative"}}},
   {"data":{"name":"bdens"},"transform":[{"filter":"datum.c == 'A3'"}],"mark":{"type":"line","stroke":"#6f6f6f","strokeWidth":0.5},"encoding":{"x":{"field":"d","type":"quantitative","scale":{"domain":[-9.9165,5.1335],"reverse":true,"zero":false,"nice":false},"axis":null},"y":{"field":"v","type":"quantitative","title":"Cosine Similarity to Most Attended Sentence"},"fill":{"field":"g","type":"nominal","scale":{"domain":["N","A"],"range":["#E08862","#3D9BD8"]},"legend":null},"detail":{"field":"g"},"order":{"field":"v","type":"quantitative"}}},
   {"data":{"name":"bdens"},"transform":[{"filter":"datum.c == 'B1'"}],"mark":{"type":"line","stroke":"#6f6f6f","strokeWidth":0.5},"encoding":{"x":{"field":"d","type":"quantitative","scale":{"domain":[-7.925,7.125],"reverse":true,"zero":false,"nice":false},"axis":null},"y":{"field":"v","type":"quantitative","title":"Cosine Similarity to Most Attended Sentence"},"fill":{"field":"g","type":"nominal","scale":{"domain":["N","A"],"range":["#E08862","#3D9BD8"]},"legend":null},"detail":{"field":"g"},"order":{"field":"v","type":"quantitative"}}},
   {"data":{"name":"bdens"},"transform":[{"filter":"datum.c == 'B2'"}],"mark":{"type":"line","stroke":"#6f6f6f","strokeWidth":0.5},"encoding":{"x":{"field":"d","type":"quantitative","scale":{"domain":[-5.933,9.117],"reverse":true,"zero":false,"nice":false},"axis":null},"y":{"field":"v","type":"quantitative","title":"Cosine Similarity to Most Attended Sentence"},"fill":{"field":"g","type":"nominal","scale":{"domain":["N","A"],"range":["#E08862","#3D9BD8"]},"legend":null},"detail":{"field":"g"},"order":{"field":"v","type":"quantitative"}}},
   {"data":{"name":"bdens"},"transform":[{"filter":"datum.c == 'B3'"}],"mark":{"type":"line","stroke":"#6f6f6f","strokeWidth":0.5},"encoding":{"x":{"field":"d","type":"quantitative","scale":{"domain":[-3.941,11.109],"reverse":true,"zero":false,"nice":false},"axis":null},"y":{"field":"v","type":"quantitative","title":"Cosine Similarity to Most Attended Sentence"},"fill":{"field":"g","type":"nominal","scale":{"domain":["N","A"],"range":["#E08862","#3D9BD8"]},"legend":null},"detail":{"field":"g"},"order":{"field":"v","type":"quantitative"}}},
   {"data":{"name":"bdens"},"transform":[{"filter":"datum.c == 'B4'"}],"mark":{"type":"line","stroke":"#6f6f6f","strokeWidth":0.5},"encoding":{"x":{"field":"d","type":"quantitative","scale":{"domain":[-1.95,13.1],"reverse":true,"zero":false,"nice":false},"axis":null},"y":{"field":"v","type":"quantitative","title":"Cosine Similarity to Most Attended Sentence"},"fill":{"field":"g","type":"nominal","scale":{"domain":["N","A"],"range":["#E08862","#3D9BD8"]},"legend":null},"detail":{"field":"g"},"order":{"field":"v","type":"quantitative"}}},
   {"layer":[
    {"data":{"name":"bdens"},"mark":{"type":"rule","color":"#8c8c8c","strokeWidth":1,"xOffset":-16},"encoding":{
      "x":{"field":"c","type":"nominal","title":"DSM-5 Criterion","scale":{"domain":["A1","A2","A3","B1","B2","B3","B4"],"paddingInner":0,"paddingOuter":0.278},"axis":{"labelAngle":0,"labelFontSize":8.5,"titleFontSize":10.5,"tickSize":3,"labelPadding":3,"titlePadding":4}},
      "y":{"aggregate":"min","field":"v","type":"quantitative","title":"Cosine Similarity to Most Attended Sentence"},
      "y2":{"aggregate":"max","field":"v"}}},
    {"data":{"name":"bbox"},"transform":[{"filter":"datum.g == 'N'"}],"mark":{"type":"rule","color":"#555","strokeWidth":1.3,"xOffset":-6},"encoding":{"x":{"field":"c","type":"nominal","title":"DSM-5 Criterion"},"y":{"field":"lo","type":"quantitative","title":"Cosine Similarity to Most Attended Sentence"},"y2":{"field":"hi"}}},
    {"data":{"name":"bbox"},"transform":[{"filter":"datum.g == 'A'"}],"mark":{"type":"rule","color":"#555","strokeWidth":1.3,"xOffset":6},"encoding":{"x":{"field":"c","type":"nominal","title":"DSM-5 Criterion"},"y":{"field":"lo","type":"quantitative","title":"Cosine Similarity to Most Attended Sentence"},"y2":{"field":"hi"}}},
    {"data":{"name":"bbox"},"transform":[{"filter":"datum.g == 'N'"},{"fold":["lo","hi"],"as":["kk","vv"]}],"mark":{"type":"tick","color":"#555","thickness":1.3,"size":7,"xOffset":-6},"encoding":{"x":{"field":"c","type":"nominal","title":"DSM-5 Criterion"},"y":{"field":"vv","type":"quantitative","title":"Cosine Similarity to Most Attended Sentence"}}},
    {"data":{"name":"bbox"},"transform":[{"filter":"datum.g == 'A'"},{"fold":["lo","hi"],"as":["kk","vv"]}],"mark":{"type":"tick","color":"#555","thickness":1.3,"size":7,"xOffset":6},"encoding":{"x":{"field":"c","type":"nominal","title":"DSM-5 Criterion"},"y":{"field":"vv","type":"quantitative","title":"Cosine Similarity to Most Attended Sentence"}}},
    {"data":{"name":"bbox"},"transform":[{"filter":"datum.g == 'N'"}],"mark":{"type":"bar","width":12,"xOffset":-6,"stroke":"#444","strokeWidth":0.8},"encoding":{"x":{"field":"c","type":"nominal","title":"DSM-5 Criterion"},"y":{"field":"q1","type":"quantitative","title":"Cosine Similarity to Most Attended Sentence"},"y2":{"field":"q3"},
      "fill":{"field":"g","type":"nominal","scale":{"domain":["N","A"],"range":["#E0581E","#1283D3"]},"legend":{"title":"MD-Assessed Diagnosis","labelExpr":"datum.label == 'N' ? 'Non-autism' : 'Autism'","orient":"bottom-right","offset":6,"fillColor":"white","strokeColor":"#444","padding":5,"cornerRadius":2,"titleFontSize":10.6,"titleFontWeight":"bold","titleColor":"#111","labelFontSize":10.6,"labelColor":"#111","symbolType":"M-1.4,-0.5H1.4V0.5H-1.4Z","symbolSize":225,"symbolStrokeWidth":0,"symbolOffset":18,"labelOffset":8,"rowPadding":3,"titlePadding":3}}}},
    {"data":{"name":"bbox"},"transform":[{"filter":"datum.g == 'A'"}],"mark":{"type":"bar","width":12,"xOffset":6,"stroke":"#444","strokeWidth":0.8},"encoding":{"x":{"field":"c","type":"nominal","title":"DSM-5 Criterion"},"y":{"field":"q1","type":"quantitative","title":"Cosine Similarity to Most Attended Sentence"},"y2":{"field":"q3"},
      "fill":{"field":"g","type":"nominal"}}},
    {"data":{"name":"bbox"},"transform":[{"filter":"datum.g == 'N'"}],"mark":{"type":"tick","color":"#333","thickness":1.4,"size":12,"xOffset":-6},"encoding":{"x":{"field":"c","type":"nominal","title":"DSM-5 Criterion"},"y":{"field":"med","type":"quantitative","title":"Cosine Similarity to Most Attended Sentence"}}},
    {"data":{"name":"bbox"},"transform":[{"filter":"datum.g == 'A'"}],"mark":{"type":"tick","color":"#333","thickness":1.4,"size":12,"xOffset":6},"encoding":{"x":{"field":"c","type":"nominal","title":"DSM-5 Criterion"},"y":{"field":"med","type":"quantitative","title":"Cosine Similarity to Most Attended Sentence"}}}
   ]}
  ]
 }
],"spacing":0,"bounds":"flush",
"resolve":{"scale":{"color":"independent","fill":"independent","stroke":"independent","xOffset":"independent"},"legend":{"color":"independent","fill":"independent","stroke":"independent"}}},
{"hconcat":[
 {"width":134.5,"height":305,"data":{"values":[{"t":"C"}]},"mark":{"type":"text","fontSize":21,"fontWeight":"bold","align":"center","baseline":"middle","color":"#000"},"encoding":{"text":{"field":"t"},"x":{"datum":0.752,"type":"quantitative","scale":{"domain":[0,1],"nice":false,"zero":false},"axis":null},"y":{"datum":1.0295,"type":"quantitative","scale":{"domain":[0,1],"nice":false,"zero":false},"axis":null}}},
 {"width":428,"height":267,
  "title":{"text":"ROC Curve for DSM-5 Criteria Cosine Similarities, Predicting Diagnosis","fontSize":10.2,"frame":"group","dx":3,"offset":3},
  "encoding":{
   "x":{"field":"fpr","type":"quantitative","title":"False Positive Rate","scale":{"domain":[-0.045,1.048],"nice":false,"zero":false},"axis":{"values":[0,0.2,0.4,0.6,0.8,1],"format":".1f","labelFontSize":9.5,"titleFontSize":11.5,"tickSize":4,"labelPadding":2,"titlePadding":3}},
   "y":{"field":"tpr","type":"quantitative","title":"True Positive Rate","scale":{"domain":[-0.0506,1.048],"nice":false,"zero":false},"axis":{"values":[0,0.2,0.4,0.6,0.8,1],"format":".1f","labelFontSize":9.5,"titleFontSize":11.5,"tickSize":4,"labelPadding":2,"titlePadding":6}}
  },
  "layer":[
   {"data":{"values":[{"fpr":0,"tpr":0},{"fpr":1,"tpr":1}]},"mark":{"type":"line","color":"#222","strokeWidth":0.8,"strokeDash":[2,2]}},
   {"data":{"name":"roc"},"mark":{"type":"line","strokeWidth":1.6},"encoding":{"stroke":{"field":"s","type":"nominal","scale":{"domain":["M","R"],"range":["#D6358B","#5F9C9F"]},"legend":{"title":null,"labelExpr":"datum.label == 'M' ? 'Most Attended Sentence' : 'Random Sentence'","orient":"bottom-right","offset":6,"fillColor":"white","strokeColor":"#444","padding":5,"cornerRadius":2,"labelFontSize":11.3,"labelColor":"#111","symbolType":"M-2,0H2","symbolSize":132,"symbolStrokeWidth":1.6,"symbolFillColor":"transparent","labelOffset":9,"rowPadding":4}}}}
  ]
 },
 {"width":72,"height":305,"data":{"values":[{"t":"D"}]},"mark":{"type":"text","fontSize":21,"fontWeight":"bold","align":"center","baseline":"middle","color":"#000"},"encoding":{"text":{"field":"t"},"x":{"datum":0.361,"type":"quantitative","scale":{"domain":[0,1],"nice":false,"zero":false},"axis":null},"y":{"datum":1.0295,"type":"quantitative","scale":{"domain":[0,1],"nice":false,"zero":false},"axis":null}}},
 {"width":432,"height":267,
  "title":{"text":"Out-of-Sample LDA Scores Correlated with DSM-5 Criteria Cosine Similarities","fontSize":10.2,"frame":"group","dx":-24,"offset":3},
  "layer":[
   {"data":{"name":"lda"},"mark":{"type":"circle","size":30,"color":"#D0428C","opacity":1},"encoding":{
     "x":{"field":"c","type":"nominal","title":"DSM-5 Criteria","scale":{"paddingInner":0.424,"paddingOuter":0.2185},"axis":{"labelAngle":0,"labelFontSize":9.5,"titleFontSize":11.5,"tickSize":4,"labelPadding":2,"titlePadding":3}},
     "xOffset":{"field":"f","type":"nominal","scale":{"paddingInner":0,"paddingOuter":0}},
     "y":{"field":"r","type":"quantitative","title":"Correlation with LDA Score","scale":{"domain":[-1.073,1.089],"nice":false,"zero":false},"axis":{"values":[-1,-0.75,-0.5,-0.25,0,0.25,0.5,0.75,1],"tickCount":9,"format":".2f","labelFontSize":9.5,"titleFontSize":11.5,"tickSize":4,"labelPadding":2,"titlePadding":6}}}},
   {"data":{"values":[{}]},"mark":{"type":"rule","color":"#111","strokeDash":[5,3],"strokeWidth":1.2},"encoding":{"y":{"datum":0,"type":"quantitative"}}}
  ]
 }
],"spacing":0,"bounds":"flush",
"resolve":{"scale":{"color":"independent","fill":"independent","stroke":"independent","xOffset":"independent"},"legend":{"color":"independent","fill":"independent","stroke":"independent"}}},
{"width":1245,"height":554,"data":{"name":"cap"},
 "encoding":{"x":{"datum":0,"type":"quantitative","scale":{"domain":[0,1],"nice":false,"zero":false},"axis":null},"y":{"field":"n","type":"quantitative","scale":{"domain":[-1.63,21.5],"nice":false,"zero":false,"reverse":true},"axis":null},"text":{"field":"t"}},
 "layer":[
  {"transform":[{"filter":"datum.k == 'h'"}],"mark":{"type":"text","align":"left","baseline":"middle","fontSize":19,"fontWeight":"bold","color":"#B3484B"}},
  {"transform":[{"filter":"datum.k == 't'"}],"mark":{"type":"text","align":"left","baseline":"middle","fontSize":17.5,"color":"#1a1a1a"}},
  {"transform":[{"filter":"datum.k == 'l1'"}],"mark":{"type":"text","align":"left","baseline":"middle","fontSize":17.5,"color":"#1E9BD7","dx":73.0}},
  {"transform":[{"filter":"datum.k == 't2'"}],"mark":{"type":"text","align":"left","baseline":"middle","fontSize":17.5,"color":"#1a1a1a","dx":162.5}},
  {"transform":[{"filter":"datum.k == 'l2'"}],"mark":{"type":"text","align":"left","baseline":"middle","fontSize":17.5,"color":"#1E9BD7","dx":196.5}},
  {"transform":[{"filter":"datum.k == 't3'"}],"mark":{"type":"text","align":"left","baseline":"middle","fontSize":17.5,"color":"#1a1a1a","dx":217.9}}
 ]
},
{"hconcat":[
 {"width":606,"height":346.9,"data":{"name":"bl"},
  "encoding":{"x":{"datum":0,"type":"quantitative","scale":{"domain":[0,1],"nice":false,"zero":false},"axis":null},"y":{"field":"n","type":"quantitative","scale":{"domain":[-2.24,10.3],"nice":false,"zero":false,"reverse":true},"axis":null},"text":{"field":"t"}},
  "layer":[
   {"transform":[{"filter":"datum.k == 't'"}],"mark":{"type":"text","align":"left","baseline":"middle","fontSize":22,"color":"#1a1a1a"}},
   {"transform":[{"filter":"datum.k == 'i'"}],"mark":{"type":"text","align":"left","baseline":"middle","fontSize":22,"color":"#1a1a1a","dx":23}},
   {"transform":[{"filter":"datum.k == 'l'"}],"mark":{"type":"text","align":"left","baseline":"middle","fontSize":22,"color":"#1E9BD7","dx":507.5}}
  ]
 },
 {"width":606,"height":346.9,"data":{"name":"br"},
  "encoding":{"x":{"datum":0,"type":"quantitative","scale":{"domain":[0,1],"nice":false,"zero":false},"axis":null},"y":{"field":"n","type":"quantitative","scale":{"domain":[-2.24,10.3],"nice":false,"zero":false,"reverse":true},"axis":null},"text":{"field":"t"}},
  "layer":[
   {"transform":[{"filter":"datum.k == 't'"}],"mark":{"type":"text","align":"left","baseline":"middle","fontSize":22,"color":"#1a1a1a"}},
   {"transform":[{"filter":"datum.k == 's'"}],"mark":{"type":"text","align":"left","baseline":"middle","fontSize":13,"color":"#1E9BD7","dx":476.0,"dy":-9}},
   {"transform":[{"filter":"datum.k == 'u'"}],"mark":{"type":"text","align":"left","baseline":"middle","fontSize":22,"color":"#1a1a1a","dx":490.5}},
   {"transform":[{"filter":"datum.k == 'l'"}],"mark":{"type":"text","align":"left","baseline":"middle","fontSize":22,"color":"#1E9BD7","dx":419.4}},
   {"transform":[{"filter":"datum.k == 'v'"}],"mark":{"type":"text","align":"left","baseline":"middle","fontSize":22,"color":"#1a1a1a","dx":500.1}}
  ]
 }
],"spacing":30.5,"bounds":"flush"}
]
}
